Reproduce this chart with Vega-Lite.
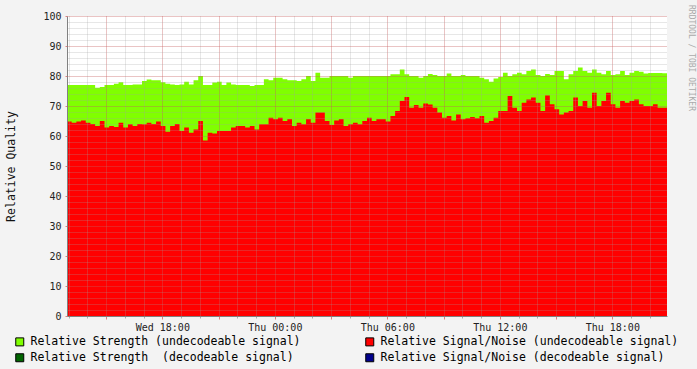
{
  "$schema": "https://vega.github.io/schema/vega-lite/v6.json",
  "width": 600,
  "height": 300,
  "autosize": "none",
  "padding": {"left": 67, "top": 16, "right": 30, "bottom": 53},
  "background": "#f3f3f3",
  "title": {"text": "RRDTOOL / TOBI OETIKER", "orient": "right", "anchor": "start", "font": "DejaVu Sans Mono", "fontSize": 8, "fontWeight": "normal", "color": "#aaaaaa", "offset": 8, "dx": -6},
  "data": {"values": [
    {"time":"2008-01-09T12:55","strength":77,"snr":64.8},
    {"time":"2008-01-09T13:10","strength":77,"snr":64.4},
    {"time":"2008-01-09T13:25","strength":77,"snr":64.8},
    {"time":"2008-01-09T13:40","strength":77,"snr":65.2},
    {"time":"2008-01-09T13:55","strength":77,"snr":64.4},
    {"time":"2008-01-09T14:10","strength":77,"snr":64},
    {"time":"2008-01-09T14:25","strength":76.1,"snr":63.3},
    {"time":"2008-01-09T14:40","strength":76.3,"snr":65},
    {"time":"2008-01-09T14:55","strength":77,"snr":62.8},
    {"time":"2008-01-09T15:10","strength":77,"snr":63.3},
    {"time":"2008-01-09T15:25","strength":77.4,"snr":63},
    {"time":"2008-01-09T15:40","strength":77.9,"snr":64.4},
    {"time":"2008-01-09T15:55","strength":77,"snr":62.8},
    {"time":"2008-01-09T16:10","strength":77,"snr":63.9},
    {"time":"2008-01-09T16:25","strength":77.2,"snr":63.3},
    {"time":"2008-01-09T16:40","strength":77.2,"snr":64},
    {"time":"2008-01-09T16:55","strength":78.3,"snr":63.9},
    {"time":"2008-01-09T17:10","strength":78.8,"snr":64.4},
    {"time":"2008-01-09T17:25","strength":78.6,"snr":64},
    {"time":"2008-01-09T17:40","strength":78.6,"snr":64.8},
    {"time":"2008-01-09T17:55","strength":77.9,"snr":63.3},
    {"time":"2008-01-09T18:10","strength":77.4,"snr":61.4},
    {"time":"2008-01-09T18:25","strength":77.2,"snr":63.3},
    {"time":"2008-01-09T18:40","strength":77,"snr":64},
    {"time":"2008-01-09T18:55","strength":77.2,"snr":61.7},
    {"time":"2008-01-09T19:10","strength":78.1,"snr":62.8},
    {"time":"2008-01-09T19:25","strength":77.2,"snr":61.1},
    {"time":"2008-01-09T19:40","strength":78.6,"snr":62.2},
    {"time":"2008-01-09T19:55","strength":80,"snr":65},
    {"time":"2008-01-09T20:10","strength":77,"snr":58.5},
    {"time":"2008-01-09T20:25","strength":77,"snr":61.1},
    {"time":"2008-01-09T20:40","strength":77.8,"snr":60.8},
    {"time":"2008-01-09T20:55","strength":78.1,"snr":61.7},
    {"time":"2008-01-09T21:10","strength":77,"snr":61.7},
    {"time":"2008-01-09T21:25","strength":77.8,"snr":61.7},
    {"time":"2008-01-09T21:40","strength":77.2,"snr":62.8},
    {"time":"2008-01-09T21:55","strength":77,"snr":63.3},
    {"time":"2008-01-09T22:10","strength":77,"snr":63.3},
    {"time":"2008-01-09T22:25","strength":77,"snr":62.8},
    {"time":"2008-01-09T22:40","strength":76.7,"snr":63.3},
    {"time":"2008-01-09T22:55","strength":77,"snr":62.2},
    {"time":"2008-01-09T23:10","strength":77,"snr":63.9},
    {"time":"2008-01-09T23:25","strength":78.9,"snr":63.9},
    {"time":"2008-01-09T23:40","strength":78.6,"snr":66.1},
    {"time":"2008-01-09T23:55","strength":79.4,"snr":65.6},
    {"time":"2008-01-10T00:10","strength":79.4,"snr":66.1},
    {"time":"2008-01-10T00:25","strength":78.9,"snr":65},
    {"time":"2008-01-10T00:40","strength":78.6,"snr":65.6},
    {"time":"2008-01-10T00:55","strength":78.6,"snr":63.3},
    {"time":"2008-01-10T01:10","strength":78.3,"snr":64.4},
    {"time":"2008-01-10T01:25","strength":78.9,"snr":63.9},
    {"time":"2008-01-10T01:40","strength":80,"snr":65.6},
    {"time":"2008-01-10T01:55","strength":78.3,"snr":64.4},
    {"time":"2008-01-10T02:10","strength":81.1,"snr":67.8},
    {"time":"2008-01-10T02:25","strength":79.4,"snr":67.8},
    {"time":"2008-01-10T02:40","strength":79.4,"snr":65},
    {"time":"2008-01-10T02:55","strength":80,"snr":63.7},
    {"time":"2008-01-10T03:10","strength":80,"snr":65.2},
    {"time":"2008-01-10T03:25","strength":80,"snr":65.6},
    {"time":"2008-01-10T03:40","strength":80,"snr":63.3},
    {"time":"2008-01-10T03:55","strength":79.4,"snr":63.9},
    {"time":"2008-01-10T04:10","strength":80,"snr":64.4},
    {"time":"2008-01-10T04:25","strength":80,"snr":63.9},
    {"time":"2008-01-10T04:40","strength":80,"snr":65},
    {"time":"2008-01-10T04:55","strength":80,"snr":66.1},
    {"time":"2008-01-10T05:10","strength":80,"snr":65},
    {"time":"2008-01-10T05:25","strength":80,"snr":65.6},
    {"time":"2008-01-10T05:40","strength":80,"snr":65.6},
    {"time":"2008-01-10T05:55","strength":80,"snr":64.8},
    {"time":"2008-01-10T06:10","strength":80.6,"snr":66.7},
    {"time":"2008-01-10T06:25","strength":80.6,"snr":68.3},
    {"time":"2008-01-10T06:40","strength":82.2,"snr":71.7},
    {"time":"2008-01-10T06:55","strength":80.6,"snr":73},
    {"time":"2008-01-10T07:10","strength":80,"snr":69.4},
    {"time":"2008-01-10T07:25","strength":80,"snr":70.3},
    {"time":"2008-01-10T07:40","strength":79.4,"snr":69.4},
    {"time":"2008-01-10T07:55","strength":80,"snr":70.8},
    {"time":"2008-01-10T08:10","strength":80.7,"snr":70.5},
    {"time":"2008-01-10T08:25","strength":80.3,"snr":69.4},
    {"time":"2008-01-10T08:40","strength":80,"snr":67.8},
    {"time":"2008-01-10T08:55","strength":80,"snr":66.1},
    {"time":"2008-01-10T09:10","strength":80.8,"snr":66.7},
    {"time":"2008-01-10T09:25","strength":80,"snr":65.2},
    {"time":"2008-01-10T09:40","strength":80,"snr":67.2},
    {"time":"2008-01-10T09:55","strength":80.3,"snr":65.6},
    {"time":"2008-01-10T10:10","strength":80,"snr":65.9},
    {"time":"2008-01-10T10:25","strength":80,"snr":66.3},
    {"time":"2008-01-10T10:40","strength":80,"snr":65.9},
    {"time":"2008-01-10T10:55","strength":79.4,"snr":66.7},
    {"time":"2008-01-10T11:10","strength":78.9,"snr":64.4},
    {"time":"2008-01-10T11:25","strength":78.1,"snr":65},
    {"time":"2008-01-10T11:40","strength":79.2,"snr":66.1},
    {"time":"2008-01-10T11:55","strength":79.7,"snr":68.3},
    {"time":"2008-01-10T12:10","strength":81.1,"snr":68.3},
    {"time":"2008-01-10T12:25","strength":80,"snr":73.3},
    {"time":"2008-01-10T12:40","strength":80.6,"snr":69.4},
    {"time":"2008-01-10T12:55","strength":81.1,"snr":68.3},
    {"time":"2008-01-10T13:10","strength":80.6,"snr":71.1},
    {"time":"2008-01-10T13:25","strength":81.7,"snr":72.2},
    {"time":"2008-01-10T13:40","strength":82.2,"snr":72.8},
    {"time":"2008-01-10T13:55","strength":80.3,"snr":71.1},
    {"time":"2008-01-10T14:10","strength":80,"snr":68.3},
    {"time":"2008-01-10T14:25","strength":80.7,"snr":73.5},
    {"time":"2008-01-10T14:40","strength":80.3,"snr":70.6},
    {"time":"2008-01-10T14:55","strength":81.7,"snr":68.9},
    {"time":"2008-01-10T15:10","strength":81.7,"snr":67.2},
    {"time":"2008-01-10T15:25","strength":78.9,"snr":67.8},
    {"time":"2008-01-10T15:40","strength":80.6,"snr":68.3},
    {"time":"2008-01-10T15:55","strength":81.7,"snr":72.8},
    {"time":"2008-01-10T16:10","strength":82.8,"snr":70},
    {"time":"2008-01-10T16:25","strength":81.7,"snr":71.7},
    {"time":"2008-01-10T16:40","strength":81.1,"snr":69.4},
    {"time":"2008-01-10T16:55","strength":82.2,"snr":74.4},
    {"time":"2008-01-10T17:10","strength":81.1,"snr":70},
    {"time":"2008-01-10T17:25","strength":80.6,"snr":71.7},
    {"time":"2008-01-10T17:40","strength":81.7,"snr":74.4},
    {"time":"2008-01-10T17:55","strength":80.3,"snr":70.6},
    {"time":"2008-01-10T18:10","strength":80.6,"snr":69.4},
    {"time":"2008-01-10T18:25","strength":81.7,"snr":71.7},
    {"time":"2008-01-10T18:40","strength":80.3,"snr":71.1},
    {"time":"2008-01-10T18:55","strength":81.1,"snr":71.7},
    {"time":"2008-01-10T19:10","strength":81.7,"snr":72.2},
    {"time":"2008-01-10T19:25","strength":81.4,"snr":70.6},
    {"time":"2008-01-10T19:40","strength":80.8,"snr":70},
    {"time":"2008-01-10T19:55","strength":81,"snr":70},
    {"time":"2008-01-10T20:10","strength":81,"snr":70.6},
    {"time":"2008-01-10T20:25","strength":81,"snr":69.4},
    {"time":"2008-01-10T20:40","strength":80.9,"snr":69.4},
    {"time":"2008-01-10T20:55","strength":80.9,"snr":69.2}
  ]},
  "layer": [
    {
      "mark": {"type": "area", "interpolate": "step-after"},
      "encoding": {
        "x": {"field": "time", "type": "temporal",
          "scale": {"domain": [{"year": 2008, "month": 1, "date": 9, "hours": 12, "minutes": 55}, {"year": 2008, "month": 1, "date": 10, "hours": 20, "minutes": 55}]},
          "axis": {"orient": "bottom", "values": [
            {"year":2008,"month":1,"date":9,"hours":13},{"year":2008,"month":1,"date":9,"hours":14},{"year":2008,"month":1,"date":9,"hours":15},{"year":2008,"month":1,"date":9,"hours":16},
            {"year":2008,"month":1,"date":9,"hours":17},{"year":2008,"month":1,"date":9,"hours":18},{"year":2008,"month":1,"date":9,"hours":19},{"year":2008,"month":1,"date":9,"hours":20},
            {"year":2008,"month":1,"date":9,"hours":21},{"year":2008,"month":1,"date":9,"hours":22},{"year":2008,"month":1,"date":9,"hours":23},
            {"year":2008,"month":1,"date":10,"hours":0},{"year":2008,"month":1,"date":10,"hours":1},{"year":2008,"month":1,"date":10,"hours":2},{"year":2008,"month":1,"date":10,"hours":3},
            {"year":2008,"month":1,"date":10,"hours":4},{"year":2008,"month":1,"date":10,"hours":5},{"year":2008,"month":1,"date":10,"hours":6},{"year":2008,"month":1,"date":10,"hours":7},
            {"year":2008,"month":1,"date":10,"hours":8},{"year":2008,"month":1,"date":10,"hours":9},{"year":2008,"month":1,"date":10,"hours":10},{"year":2008,"month":1,"date":10,"hours":11},
            {"year":2008,"month":1,"date":10,"hours":12},{"year":2008,"month":1,"date":10,"hours":13},{"year":2008,"month":1,"date":10,"hours":14},{"year":2008,"month":1,"date":10,"hours":15},
            {"year":2008,"month":1,"date":10,"hours":16},{"year":2008,"month":1,"date":10,"hours":17},{"year":2008,"month":1,"date":10,"hours":18},{"year":2008,"month":1,"date":10,"hours":19},
            {"year":2008,"month":1,"date":10,"hours":20}],
            "labels": false, "title": null, "domain": false, "ticks": true, "tickSize": 2, "tickColor": "#aaaaaa", "grid": true, "gridColor": "#a0a0a0", "gridOpacity": 0.5, "gridDash": [1, 1], "zindex": 1}},
        "y": {"field": "strength", "type": "quantitative",
          "scale": {"domain": [0, 100], "nice": false},
          "axis": {"orient": "left", "values": [0,2,4,6,8,10,12,14,16,18,20,22,24,26,28,30,32,34,36,38,40,42,44,46,48,50,52,54,56,58,60,62,64,66,68,70,72,74,76,78,80,82,84,86,88,90,92,94,96,98,100], "labels": false, "title": null, "domain": false, "ticks": false, "grid": true, "gridColor": "#a0a0a0", "gridOpacity": 0.5, "gridDash": [1, 1], "zindex": 1}},
        "color": {"datum": "Relative Strength (undecodeable signal)", "type": "nominal",
          "scale": {"domain": ["Relative Strength (undecodeable signal)", "Relative Signal/Noise (undecodeable signal)", "Relative Strength \u00a0(decodeable signal)", "Relative Signal/Noise (decodeable signal)"], "range": ["#80ff00", "#ff0000", "#006400", "#00008b"]},
          "legend": {"title": null}}
      }
    },
    {
      "mark": {"type": "area", "interpolate": "step-after"},
      "encoding": {
        "x": {"field": "time", "type": "temporal",
          "axis": {"orient": "bottom", "values": [
            {"year":2008,"month":1,"date":9,"hours":15},{"year":2008,"month":1,"date":9,"hours":18},{"year":2008,"month":1,"date":9,"hours":21},
            {"year":2008,"month":1,"date":10,"hours":0},{"year":2008,"month":1,"date":10,"hours":3},{"year":2008,"month":1,"date":10,"hours":6},{"year":2008,"month":1,"date":10,"hours":9},
            {"year":2008,"month":1,"date":10,"hours":12},{"year":2008,"month":1,"date":10,"hours":15},{"year":2008,"month":1,"date":10,"hours":18}],
            "labelExpr": "hours(datum.value) % 6 == 0 ? timeFormat(datum.value, '%a %H:%M') : ''", "labelFont": "DejaVu Sans Mono", "labelFontSize": 10, "labelColor": "#222222", "labelPadding": 3, "labelFlush": false, "labelOverlap": false, "title": null, "domain": true, "domainColor": "#808080", "ticks": true, "tickSize": 3, "tickColor": "#e08080", "grid": true, "gridColor": "#ff0000", "gridOpacity": 0.3, "gridDash": [1, 1], "zindex": 1}},
        "y": {"field": "snr", "type": "quantitative",
          "axis": {"orient": "left", "values": [0,10,20,30,40,50,60,70,80,90,100], "labelFont": "DejaVu Sans Mono", "labelFontSize": 10, "labelColor": "#222222", "labelPadding": 4, "domain": true, "domainColor": "#808080", "ticks": true, "tickSize": 2, "tickColor": "#e08080", "grid": true, "gridColor": "#ff0000", "gridOpacity": 0.3, "gridDash": [1, 1], "zindex": 1,
            "title": "Relative Quality", "titleFont": "DejaVu Sans Mono", "titleFontSize": 11.5, "titleFontWeight": "normal", "titleColor": "#111111", "titleAngle": -90, "titleX": -56, "titleY": 150, "titleAlign": "center", "titleBaseline": "middle"}},
        "color": {"datum": "Relative Signal/Noise (undecodeable signal)", "type": "nominal", "legend": {"title": null}}
      }
    }
  ],
  "resolve": {"axis": {"x": "independent", "y": "independent"}},
  "config": {
    "view": {"fill": "white", "stroke": null},
    "legend": {"orient": "none", "legendX": -53, "legendY": 320, "direction": "horizontal", "columns": 2, "columnPadding": 62, "rowPadding": 3, "symbolType": "square", "symbolSize": 64, "symbolStrokeColor": "black", "symbolStrokeWidth": 1, "symbolOpacity": 1, "labelFont": "DejaVu Sans Mono", "labelFontSize": 11.5, "labelColor": "#000000", "labelLimit": 400, "labelOffset": 5}
  }
}
